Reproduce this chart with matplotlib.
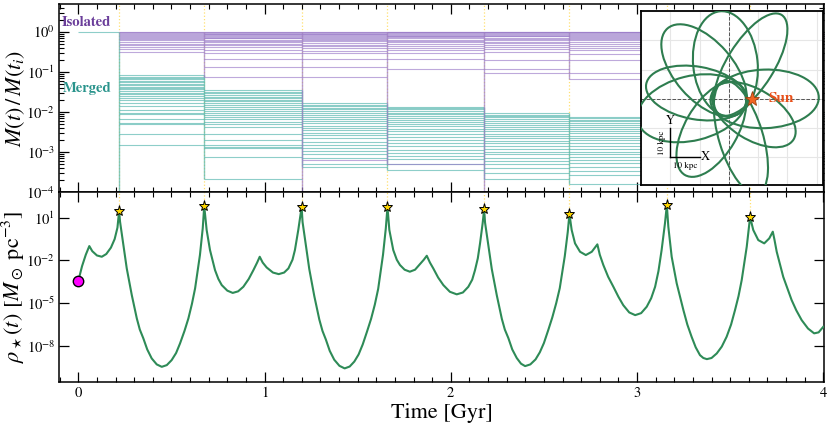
import numpy as np
import matplotlib.pyplot as plt
import matplotlib.ticker as mticker
from matplotlib.patches import Ellipse

plt.rcParams['font.family'] = 'STIXGeneral'
plt.rcParams['mathtext.fontset'] = 'stix'

# disc crossings (stars) : time [Gyr], log10 rho
cross_t = [0.219, 0.676, 1.199, 1.660, 2.179, 2.637, 3.160, 3.607]
cross_logrho = [1.47, 1.82, 1.75, 1.75, 1.59, 1.26, 1.89, 1.05]

# stellar density along the orbit
dens_t = [0.000, 0.020, 0.040, 0.059, 0.075, 0.100, 0.126, 0.150, 0.175, 0.195, 0.210, 0.219,
          0.224, 0.242, 0.260, 0.287, 0.314, 0.330, 0.349, 0.370, 0.394, 0.421, 0.448, 0.475,
          0.501, 0.525, 0.546, 0.570, 0.591, 0.610, 0.627, 0.653, 0.668, 0.676,
          0.689, 0.707, 0.734, 0.752, 0.770, 0.800, 0.829, 0.858, 0.886, 0.915, 0.940, 0.960,
          0.974, 0.990, 1.011, 1.045, 1.076, 1.105, 1.128, 1.150, 1.163, 1.181, 1.199,
          1.204, 1.222, 1.240, 1.267, 1.294, 1.311, 1.329, 1.350, 1.374, 1.402, 1.430, 1.457,
          1.482, 1.505, 1.527, 1.550, 1.572, 1.592, 1.610, 1.636, 1.651, 1.660,
          1.670, 1.691, 1.710, 1.727, 1.752, 1.780, 1.808, 1.835, 1.855, 1.871, 1.888, 1.906,
          1.932, 1.960, 1.995, 2.032, 2.065, 2.094, 2.115, 2.130, 2.145, 2.157, 2.171, 2.179,
          2.184, 2.202, 2.220, 2.247, 2.274, 2.290, 2.309, 2.330, 2.354, 2.377, 2.399, 2.427,
          2.455, 2.478, 2.500, 2.523, 2.545, 2.566, 2.585, 2.612, 2.628, 2.637,
          2.649, 2.667, 2.694, 2.725, 2.757, 2.787, 2.800, 2.819, 2.845, 2.873, 2.900, 2.926,
          2.958, 2.990, 3.022, 3.052, 3.076, 3.097, 3.115, 3.132, 3.150, 3.160,
          3.168, 3.186, 3.213, 3.249, 3.270, 3.293, 3.315, 3.338, 3.356, 3.375, 3.400, 3.428,
          3.455, 3.481, 3.505, 3.526, 3.545, 3.562, 3.589, 3.607,
          3.624, 3.651, 3.683, 3.710, 3.729, 3.738, 3.750, 3.785, 3.830, 3.855, 3.884, 3.918,
          3.951, 3.975, 4.000]
dens_logrho = [-3.43, -2.40, -1.60, -0.99, -1.35, -1.65, -1.74, -1.55, -1.10, -0.50, 0.30, 1.47,
               0.72, -0.92, -2.56, -4.43, -6.07, -6.85, -7.47, -8.25, -8.88, -9.30, -9.47, -9.35,
               -9.00, -8.50, -7.83, -6.95, -6.07, -5.05, -3.96, -1.62, 0.26, 1.82,
               0.14, -1.27, -2.68, -3.30, -3.73, -4.12, -4.28, -4.17, -3.85, -3.30, -2.68, -2.15,
               -1.74, -2.15, -2.49, -2.85, -2.96, -2.85, -2.56, -1.95, -1.27, 0.14, 1.75,
               0.70, -0.95, -2.60, -4.50, -6.15, -6.95, -7.55, -8.35, -8.97, -9.40, -9.58, -9.45,
               -9.10, -8.60, -7.90, -7.00, -6.10, -5.10, -4.00, -1.60, 0.25, 1.75,
               0.14, -1.27, -1.95, -2.32, -2.65, -2.79, -2.65, -2.25, -1.95, -1.67, -2.15, -2.56,
               -3.20, -3.73, -4.20, -4.38, -4.25, -3.85, -3.35, -2.68, -1.85, -0.80, 0.61, 1.59,
               0.65, -0.95, -2.60, -4.45, -6.10, -6.85, -7.45, -8.25, -8.85, -9.25, -9.42, -9.30,
               -8.95, -8.45, -7.80, -6.90, -6.00, -5.00, -3.95, -1.70, 0.00, 1.26,
               0.14, -0.80, -1.39, -1.62, -1.39, -0.87, -1.60, -2.32, -3.15, -3.85, -4.55, -5.14,
               -5.65, -5.84, -5.70, -5.25, -4.65, -3.85, -2.75, -1.27, 0.61, 1.89,
               0.37, -1.74, -3.61, -5.49, -6.50, -7.36, -8.10, -8.65, -8.85, -8.93, -8.85, -8.53,
               -8.05, -7.36, -6.50, -5.49, -4.50, -3.38, -1.04, 1.05,
               0.14, -0.57, -0.80, -0.45, 0.02, -0.55, -1.39, -3.15, -4.78, -5.50, -6.19, -6.78,
               -7.12, -7.05, -6.66]

# mass fractions (log10) between crossings, upper panel
seg_edges = [0.0, 0.219, 0.676, 1.199, 1.660, 2.179, 2.637, 3.160, 3.607, 4.0]
iso_levels = [
    [],
    [0.0, -0.02, -0.04, -0.06, -0.09, -0.11, -0.14, -0.16, -0.19, -0.22, -0.26, -0.30, -0.34, -0.38, -0.43, -0.50],
    [0.0, -0.01, -0.03, -0.05, -0.07, -0.09, -0.11, -0.13, -0.15, -0.17, -0.20, -0.23, -0.26, -0.30, -0.34, -0.38,
     -0.45, -0.53, -0.67, -0.87, -1.12],
    [0.0, -0.01, -0.03, -0.05, -0.07, -0.09, -0.11, -0.13, -0.15, -0.18, -0.21, -0.24, -0.28, -0.32, -0.36, -0.41,
     -0.47, -0.54, -0.67, -0.87, -1.14, -3.20],
    [0.0, -0.01, -0.02, -0.04, -0.06, -0.08, -0.10, -0.12, -0.14, -0.17, -0.20, -0.23, -0.27, -0.31, -0.35, -0.40,
     -0.46, -0.53, -0.67, -0.92, -3.30],
    [0.0, -0.01, -0.02, -0.04, -0.06, -0.08, -0.10, -0.12, -0.15, -0.18, -0.21, -0.25, -0.29, -0.33, -0.38, -0.44,
     -0.50, -0.71, -0.92, -1.04],
    [0.0, -0.01, -0.02, -0.04, -0.06, -0.08, -0.10, -0.13, -0.16, -0.19, -0.22, -0.26, -0.30, -0.35, -0.40, -0.46,
     -0.55, -0.71, -1.04, -1.17],
    [0.0, -0.01, -0.02, -0.04, -0.06, -0.08, -0.11, -0.14, -0.17, -0.20, -0.24, -0.28, -0.33, -0.38, -0.44, -0.50,
     -0.60, -0.80, -1.10, -1.25],
    [0.0, -0.01, -0.02, -0.04, -0.06, -0.08, -0.11, -0.14, -0.17, -0.20, -0.24, -0.28, -0.33, -0.38, -0.44, -0.50,
     -0.60, -0.90, -1.15, -1.30],
]
iso_drop = [False, False, False, True, False, True, False, False, False]

mrg_levels = [
    [0.0],
    [-1.08, -1.12, -1.15, -1.19, -1.22, -1.26, -1.30, -1.33, -1.37, -1.40, -1.44, -1.48, -1.52, -1.56, -1.60, -1.65,
     -1.71, -1.79, -1.86, -1.96, -2.02, -2.06, -2.17, -2.27, -2.31, -2.56, -2.83],
    [-1.46, -1.50, -1.54, -1.58, -1.62, -1.66, -1.70, -1.74, -1.78, -1.83, -1.88, -1.93, -1.98, -2.03, -2.08, -2.13,
     -2.18, -2.24, -2.30, -2.37, -2.54, -2.71, -2.83, -2.87, -2.90, -3.12, -3.67],
    [-1.79, -1.82, -1.86, -1.90, -1.94, -1.98, -2.02, -2.07, -2.12, -2.17, -2.22, -2.28, -2.34, -2.40, -2.46, -2.52,
     -2.58, -2.66, -2.74, -2.82, -2.90, -2.98, -3.06, -3.14, -3.29, -3.38],
    [-1.87, -1.90, -1.94, -1.98, -2.02, -2.06, -2.10, -2.15, -2.20, -2.25, -2.30, -2.36, -2.42, -2.48, -2.55, -2.62,
     -2.70, -2.78, -2.86, -2.94, -3.02, -3.10, -3.18, -3.30, -3.46],
    [-2.04, -2.07, -2.10, -2.14, -2.18, -2.22, -2.27, -2.32, -2.37, -2.42, -2.48, -2.54, -2.60, -2.66, -2.72, -2.78,
     -2.85, -2.92, -2.99, -3.06, -3.14, -3.22, -3.30, -3.40, -3.52, -3.67],
    [-2.12, -2.15, -2.19, -2.23, -2.27, -2.32, -2.37, -2.42, -2.47, -2.53, -2.59, -2.65, -2.71, -2.78, -2.85, -2.92,
     -2.99, -3.06, -3.13, -3.20, -3.28, -3.37, -3.47, -3.58, -3.79],
    [-2.10, -2.14, -2.18, -2.22, -2.27, -2.32, -2.37, -2.43, -2.49, -2.55, -2.61, -2.68, -2.75, -2.82, -2.90, -2.98,
     -3.06, -3.14, -3.22, -3.31, -3.41, -3.52, -3.75],
    [-2.08, -2.12, -2.16, -2.21, -2.26, -2.31, -2.36, -2.42, -2.48, -2.54, -2.60, -2.67, -2.74, -2.81, -2.89, -2.97,
     -3.05, -3.13, -3.22, -3.32, -3.44, -3.70],
]
mrg_drop = [False, True, False, False, False, False, False, False, False]

# orbit in the X-Y plane (kpc), drawn as precessing loops (centre, length, width, angle)
loop_cx = [-8.5, -1.2, 7.4, 12.2, 8.5, 4.1, -6.0, -12.6, -11.0]
loop_cy = [9.7, 12.0, 11.7, 0.0, -5.4, -13.1, -10.4, -3.2, 2.0]
loop_len = [38, 36, 40, 37, 32, 40, 36, 38, 35]
loop_wid = [20, 22, 16, 20, 17, 15, 18, 22, 18]
loop_ang = [131, 96, 58, 2, -32, -73, 60, 14, -10]
sun_xy = (8.0, 0.0)

iso_col = '#9b7cc9'
mrg_col = '#52b5ac'
ybot = 1e-4

fig = plt.figure(figsize=(8.31, 4.25), dpi=100)
ax1 = fig.add_axes([0.0714, 0.548, 0.9202, 0.4426])
ax2 = fig.add_axes([0.0714, 0.1007, 0.9202, 0.4473], sharex=ax1)


def draw_steps(ax, levels, drops, col):
    for k in range(len(levels)):
        if len(levels[k]) == 0:
            continue
        ax.hlines(10 ** np.array(levels[k]), seg_edges[k], seg_edges[k + 1],
                  colors=col, lw=0.8, alpha=0.65, zorder=2)
        if k > 0 and len(levels[k - 1]) > 0:
            top = 10 ** max(levels[k - 1])
            bot = 1e-6 if drops[k] else 10 ** min(levels[k])
            ax.vlines(seg_edges[k], bot, top, colors=col, lw=1.0, alpha=0.7, zorder=2)


for t in cross_t:
    ax1.axvline(t, color='#ffe070', ls=':', lw=0.9, zorder=1)
draw_steps(ax1, mrg_levels, mrg_drop, mrg_col)
draw_steps(ax1, iso_levels, iso_drop, iso_col)

ax1.set_yscale('log')
ax1.set_ylim(ybot, 10 ** 0.69)
ax1.set_xlim(-0.102, 4.004)
ax1.set_yticks([1e-4, 1e-3, 1e-2, 1e-1, 1e0])
ax1.yaxis.set_minor_locator(mticker.LogLocator(base=10, subs=np.arange(2, 10)))
ax1.yaxis.set_minor_formatter(mticker.NullFormatter())
ax1.set_ylabel(r'$M(t)\,/\,M(t_i)$', fontsize=16)
ax1.yaxis.set_label_coords(-0.042, 0.5)
ax1.text(-0.088, 10 ** 0.22, 'Isolated', color='#6a3d9a', fontsize=10.5,
         fontweight='bold', ha='left', va='center')
ax1.text(-0.083, 10 ** -1.42, 'Merged', color='#2a948c', fontsize=10.5,
         fontweight='bold', ha='left', va='center')
plt.setp(ax1.get_xticklabels(), visible=False)

# lower panel
ct = np.array(cross_t)
crho = 10 ** np.array(cross_logrho)
ytop = 10 ** 2.8
ax2.vlines(ct, crho, ytop, colors='#ffe070', linestyles=':', lw=0.9, zorder=1)
ax2.plot(dens_t, 10 ** np.array(dens_logrho), color='#2e8b57', lw=1.5, zorder=3)
ax2.plot(ct, crho, ls='none', marker='*', ms=8, mfc='#ffd700', mec='k', mew=0.7, zorder=5)
ax2.plot(dens_t[0], 10 ** dens_logrho[0], ls='none', marker='o', ms=7.5,
         mfc='#ff00ff', mec='k', mew=1.0, zorder=5)
ax2.set_yscale('log')
ax2.set_ylim(10 ** -10.55, ytop)
ax2.set_yticks([1e1, 1e-2, 1e-5, 1e-8])
ax2.yaxis.set_minor_locator(mticker.NullLocator())
ax2.set_xticks([0, 1, 2, 3, 4])
ax2.xaxis.set_minor_locator(mticker.MultipleLocator(0.1))
ax2.set_xlabel('Time [Gyr]', fontsize=16, labelpad=2)
ax2.set_ylabel(r'$\rho_\star(t)$ [$M_\odot$ pc$^{-3}$]', fontsize=16)
ax2.yaxis.set_label_coords(-0.042, 0.5)

for ax in (ax1, ax2):
    ax.tick_params(which='both', direction='in', top=True, right=True, labelsize=10.5)
    ax.tick_params(which='major', length=7, width=0.9, pad=3)
    ax.tick_params(which='minor', length=3.5, width=0.8)
    for s in ax.spines.values():
        s.set_linewidth(1.1)

# inset orbit
axi = fig.add_axes([0.7714, 0.5647, 0.2185, 0.4094])
axi.set_zorder(10)
axi.set_facecolor('white')
for cx, cy, w, h, a in zip(loop_cx, loop_cy, loop_len, loop_wid, loop_ang):
    axi.add_patch(Ellipse((cx, cy), w, h, angle=a, fill=False, ec='#2e7d4f', lw=1.5, zorder=3))
axi.axhline(0, color='#555555', ls='--', lw=0.7, zorder=2)
axi.axvline(0, color='#555555', ls='--', lw=0.7, zorder=2)
axi.set_xlim(-30, 32)
axi.set_ylim(-29.4, 30)
axi.set_xticks(np.arange(-30, 31, 10))
axi.set_yticks(np.arange(-20, 31, 10))
axi.grid(color='#e6e6e6', lw=0.8, zorder=0)
axi.set_axisbelow(True)
axi.tick_params(length=0, labelbottom=False, labelleft=False)
for s in axi.spines.values():
    s.set_linewidth(1.3)
# scale bar
axi.plot([-20, -10], [-20, -20], color='k', lw=1.0, zorder=4)
axi.plot([-20, -20], [-20, -10], color='k', lw=1.0, zorder=4)
axi.text(-9.5, -20, 'X', fontsize=9, ha='left', va='center')
axi.text(-20, -9.5, 'Y', fontsize=9, ha='center', va='bottom')
axi.text(-15, -21.5, '10 kpc', fontsize=6.5, ha='center', va='top')
axi.text(-21.5, -15, '10 kpc', fontsize=6.5, ha='right', va='center', rotation=90)
axi.plot(*sun_xy, ls='none', marker='*', ms=11, mfc='#f26522', mec='#a0400f', mew=0.6, zorder=6)
axi.text(sun_xy[0] + 5.5, sun_xy[1], 'Sun', color='#e8501a', fontsize=11, fontweight='bold',
         ha='left', va='center', zorder=6)

fig.savefig('out.png', dpi=100)
